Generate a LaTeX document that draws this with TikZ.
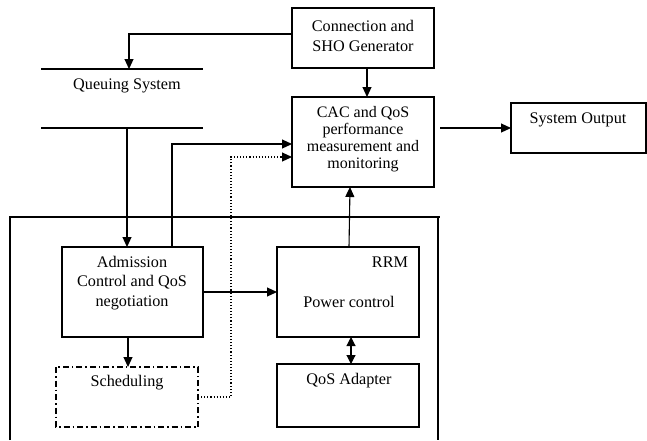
\documentclass[tikz,border=0pt]{standalone}
\usepackage{fontspec}
\setmainfont{Liberation Serif}
\usetikzlibrary{arrows.meta}
\begin{document}
\begin{tikzpicture}[x=1pt,y=-1pt,line width=1.1pt,
  blk/.style={draw,inner sep=0pt},
  lbl/.style={font=\fontsize{16.2}{19.5}\selectfont,align=center,inner sep=0pt},
  arr/.style={-{Triangle[length=10pt,width=9pt]}},
  darr/.style={{Triangle[length=9pt,width=9pt]}-{Triangle[length=9pt,width=9pt]}},
  dotln/.style={dotted,line width=1.1pt}]
\useasboundingbox (0,0) rectangle (647,440);
% boxes
\draw (292,8) rectangle (434,68);
\node[lbl] (conn) at (363,36) {Connection and\\SHO Generator};
\coordinate (connL) at (292,34);
\coordinate (connB) at (367,68);

\draw (292,97) rectangle (434,187);
\node[lbl,font=\fontsize{16}{17}\selectfont] (cac) at (363,139) {CAC and QoS\\performance\\measurement and\\monitoring};
\coordinate (cacT) at (367,97);
\coordinate (cacB) at (350,187);
\coordinate (cacR) at (440,128);
\coordinate (cacL1) at (292,144);
\coordinate (cacL2) at (292,157);

\draw (511,103) rectangle (646,153);
\node[lbl] (out) at (578,120) {System Output};
\coordinate (outL) at (511,128);

% queuing system
\draw (41,69) coordinate (qtl) -- (203,69) coordinate (qtr);
\draw (41,128) coordinate (qbl) -- (203,128) coordinate (qbr);
\node[lbl] (queue) at (127,86) {Queuing System};
\coordinate (qT) at (129,69);
\coordinate (qB) at (127,128);

% frame
\draw (10,440) -- (10,217) -- (440,217);
\draw (438,217) -- (438,440);

% admission
\draw (62,247) rectangle (203,337);
\node[lbl] (adm) at (132,283) {Admission\\Control and QoS\\negotiation};
\coordinate (admT) at (127,247);
\coordinate (admT2) at (172,247);
\coordinate (admR) at (203,292);
\coordinate (admB) at (128,337);

% power control
\draw (277,247) rectangle (419,337);
\node[lbl] (rrm) at (390,262) {RRM};
\node[lbl] (pc) at (349,302) {Power control};
\coordinate (pcL) at (277,292);
\coordinate (pcT) at (349,247);
\coordinate (pcB) at (351,337);

% QoS adapter
\draw (277,364) rectangle (419,427);
\node[lbl] (qa) at (349,381) {QoS Adapter};
\coordinate (qaT) at (351,364);

% scheduling
\draw[dash pattern=on 6pt off 3pt on 1.5pt off 3pt] (56,367) rectangle (198,427);
\node[lbl] (sch) at (127,383) {Scheduling};
\coordinate (schT) at (128,367);
\coordinate (schR) at (198,397);

% connectors
\draw[arr] (connL) -| (qT);
\draw[arr] (connB) -- (cacT);
\draw[arr] (cacR) -- (outL);
\draw[arr] (qB) -- (admT);
\draw[arr] (admT2) |- (cacL1);
\draw[arr,dotln] (schR) -- (231,397) |- (cacL2);
\draw[arr] (admR) -- (pcL);
\draw[arr] (pcT) -- (cacB);
\draw[darr] (pcB) -- (qaT);
\draw[arr] (admB) -- (schT);
\end{tikzpicture}
\end{document}
